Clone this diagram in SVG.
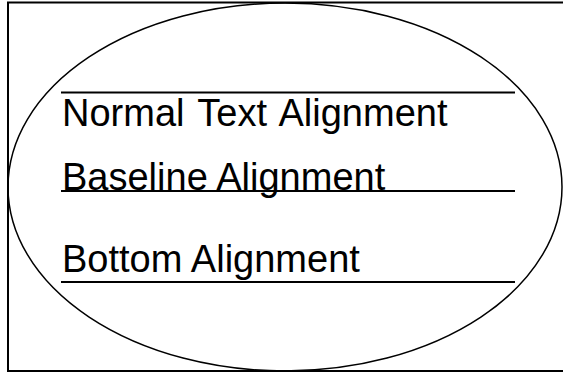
<svg xmlns="http://www.w3.org/2000/svg" width="563" height="373" viewBox="0 0 563 373">
<style>
.ln{stroke:#000;stroke-width:2;fill:none}
.t{font-family:"Liberation Sans",Arial,sans-serif;font-size:38px;fill:#000}
</style>
<rect x="0" y="0" width="563" height="373" fill="#fff"/>
<rect x="8" y="2.5" width="560" height="368.5" fill="none" stroke="#000" stroke-width="2"/>
<ellipse cx="285" cy="187" rx="277" ry="184" fill="none" stroke="#000" stroke-width="1.5"/>
<g id="connectors">
<line class="ln" x1="61" y1="92.5" x2="515" y2="92.5"/>
<line class="ln" x1="61" y1="191" x2="515" y2="191"/>
<line class="ln" x1="61" y1="282" x2="515" y2="282"/>
</g>
<g id="normal"><text class="t" x="62" y="126" word-spacing="3">Normal Text Alignment</text></g>
<g id="baseline"><text class="t" x="62" y="190">Baseline Alignment</text></g>
<g id="bottom"><text class="t" x="62" y="272">Bottom Alignment</text></g>
</svg>
